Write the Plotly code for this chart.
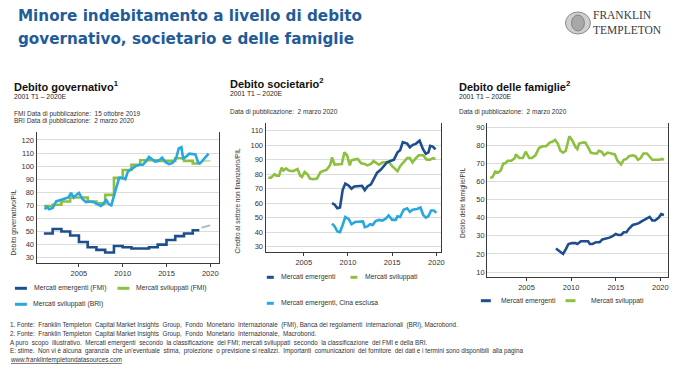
import plotly.graph_objects as go

W, H = 682, 382
FONT = "Liberation Sans, Arial, sans-serif"
DARK = "#1d4f8c"
GREEN = "#8dc03f"
CYAN = "#27a8de"
TXT = "#333333"

# ---------------- data ----------------
# Chart 1: Debito governativo / PIL (annual IMF, quarterly BIS)
gov_years = list(range(2001, 2019))
gov_em_fmi = [48.5, 52, 50, 47, 42, 38, 36, 34, 39, 38, 37, 37, 38, 40, 43.5, 46.5, 48.5, 51]
gov_dm_fmi = [69.5, 70.5, 73, 76, 76, 73, 71.5, 78, 91, 97, 101, 104.5, 104.5, 104, 104, 106, 104, 102]
proj_years = [2019, 2020, 2021]
gov_em_proj = [53, 55, 56.5]
gov_dm_proj = [104, 104, 104]
gov_bri_t = [2001.1, 2001.35, 2001.6, 2002.0, 2002.4, 2002.8, 2003.4, 2003.8, 2004.1, 2004.4, 2004.7,
             2005.0, 2005.4, 2005.8, 2006.2, 2006.7, 2007.1, 2007.5, 2007.8, 2008.1, 2008.4, 2008.7,
             2009.2, 2009.6, 2009.9, 2010.3, 2010.6, 2011.0, 2011.5, 2011.9, 2012.3, 2012.7, 2013.0,
             2013.4, 2013.7, 2014.1, 2014.5, 2014.9, 2015.3, 2015.7, 2016.1, 2016.4, 2016.7, 2016.9,
             2017.2, 2017.6, 2018.0, 2018.3, 2018.6, 2018.8, 2019.1, 2019.5, 2019.8]
gov_dm_bri = [67, 69, 67, 68, 73, 74, 75, 76, 79.5, 76, 78,
              79.5, 75, 72.5, 73, 72.5, 71, 69.5, 71, 74.5, 71, 70,
              82, 91, 91, 90, 96, 98, 100, 101, 101, 104, 107,
              105, 103.5, 104, 106.5, 103, 101.5, 102.5, 106, 113.5, 114.5, 106,
              107, 109.5, 109, 109, 103, 102, 104, 107, 109.5]

# Chart 2: Credito al settore non finanziario / PIL
corp_dm_t = [2001.0, 2001.3, 2001.7, 2001.9, 2002.2, 2002.5, 2002.7, 2003.0, 2003.3, 2003.8,
             2004.3, 2004.6, 2004.8, 2005.1, 2005.4, 2005.7, 2006.1, 2006.5, 2006.9, 2007.2,
             2007.6, 2008.0, 2008.2, 2008.5, 2008.9, 2009.3, 2009.6, 2009.9, 2010.2, 2010.4,
             2010.7, 2011.1, 2011.5, 2011.9, 2012.2, 2012.6, 2012.9, 2013.1, 2013.5, 2013.9,
             2014.3, 2014.6, 2015.0, 2015.4, 2015.6, 2015.9, 2016.3, 2016.7, 2017.0, 2017.3,
             2017.6, 2018.0, 2018.5, 2018.9, 2019.3, 2019.6, 2019.9]
corp_dm = [77.5, 77.5, 80, 79, 79, 84.5, 82.5, 84, 82.5, 82,
           83.5, 79, 78, 81.5, 80, 77, 76.5, 77, 81.5, 82,
           83, 86.5, 91.5, 86.5, 86.5, 87, 95, 93, 86, 89.5,
           90, 90.5, 87.5, 87, 86, 87, 89, 88, 86.5, 88,
           88, 88.5, 85.5, 83, 82, 85.5, 88, 91, 91, 88,
           90.5, 93, 93, 90, 90, 91, 90.5]
corp_em_t = [2008.2, 2008.5, 2008.8, 2009.1, 2009.4, 2009.7, 2010.1, 2010.4, 2010.7, 2011.2,
             2011.6, 2011.9, 2012.2, 2012.6, 2013.0, 2013.3, 2013.7, 2014.1, 2014.4, 2014.8,
             2015.2, 2015.6, 2015.9, 2016.2, 2016.7, 2017.0, 2017.3, 2017.7, 2018.1, 2018.5,
             2018.8, 2019.1, 2019.3, 2019.6, 2019.9]
corp_em = [60, 59, 56.5, 57, 69, 73.5, 72, 70, 71.5, 71.5,
           72, 69, 71.5, 73, 78, 81, 83, 85.5, 88, 89,
           90, 95, 96.5, 102, 101, 98.5, 100, 101, 103, 97,
           94, 95, 99.5, 99, 97]
corp_emx_t = [2008.2, 2008.5, 2008.8, 2009.1, 2009.4, 2009.7, 2010.1, 2010.4, 2010.8, 2011.3,
              2011.7, 2011.9, 2012.2, 2012.5, 2012.8, 2013.1, 2013.5, 2013.9, 2014.3, 2014.6,
              2015.0, 2015.4, 2015.6, 2015.9, 2016.3, 2016.7, 2017.0, 2017.3, 2017.8, 2018.2,
              2018.5, 2018.8, 2019.1, 2019.4, 2019.7, 2020.0]
corp_emx = [46, 44, 40.5, 40, 45, 50.5, 49, 45.5, 47, 47.5,
            47.5, 43.5, 44, 45.5, 45, 47.5, 48.5, 48, 49.5, 51.5,
            48.5, 48.5, 51, 50.5, 55.5, 56.5, 54, 55.5, 56, 57,
            52, 50, 51, 55, 55, 53.5]

# Chart 3: Debito delle famiglie / PIL
hh_dm_t = [2000.93, 2001.2, 2001.5, 2001.8, 2002.1, 2002.4, 2002.6, 2002.9, 2003.3, 2003.7,
           2003.8, 2004.2, 2004.6, 2004.9, 2005.3, 2005.6, 2006.0, 2006.4, 2006.8, 2007.2,
           2007.6, 2007.9, 2008.2, 2008.5, 2008.8, 2009.1, 2009.4, 2009.8, 2010.1, 2010.5,
           2010.7, 2010.9, 2011.3, 2011.6, 2012.0, 2012.2, 2012.6, 2012.9, 2013.1, 2013.4,
           2013.7, 2014.1, 2014.5, 2014.9, 2015.2, 2015.6, 2015.9, 2016.2, 2016.5, 2016.9,
           2017.2, 2017.5, 2017.8, 2018.1, 2018.5, 2018.8, 2019.1, 2019.5, 2019.9, 2020.2, 2020.4]
hh_dm = [62, 62.5, 65.5, 65, 66, 70, 70, 71.5, 71.5, 73,
         75, 73, 73, 76.5, 73, 73, 74.5, 78.5, 79.5, 79.5,
         81.5, 82, 83, 81, 77, 76, 77, 85, 83, 79,
         78, 81, 81.5, 81.5, 78, 76, 75.5, 75.5, 77, 76.5,
         74.5, 76, 75.5, 75, 71.5, 69.5, 72, 72.5, 74, 74.5,
         74, 72, 73, 75.5, 75.5, 74, 72, 72, 72, 72.5, 72]
hh_em_t = [2008.3, 2008.6, 2008.9, 2009.1, 2009.4, 2009.7, 2010.1, 2010.5, 2010.7, 2011.1,
           2011.6, 2011.9, 2012.1, 2012.4, 2012.8, 2013.2, 2013.5, 2013.9, 2014.3, 2014.7,
           2015.0, 2015.3, 2015.6, 2015.9, 2016.2, 2016.5, 2016.9, 2017.3, 2017.6, 2017.9,
           2018.4, 2018.8, 2019.1, 2019.4, 2019.8, 2020.1, 2020.4]
hh_em = [23, 22, 20.5, 20, 22.5, 25.5, 26, 26, 25.5, 27,
         27, 27, 25.5, 25.5, 26.5, 26.5, 28, 28.5, 29, 30,
         31, 30.5, 30.5, 32, 32, 34, 36, 36.5, 37, 38,
         39.5, 40.5, 38.5, 38.5, 40, 42, 41.5]

x_ticks = [2005, 2010, 2015, 2020]
gov_yticks = list(range(30, 130, 10))
corp_yticks = list(range(30, 120, 10))
hh_yticks = list(range(10, 100, 10))


def px(x):
    return x / W


def py(y):
    return 1 - y / H


fig = go.Figure()


def line(x, y, color, ax, dash=None, shape="linear", width=2.6):
    fig.add_trace(go.Scatter(x=x, y=y, mode="lines", xaxis=ax[0], yaxis=ax[1],
                             line=dict(color=color, width=width, dash=dash, shape=shape),
                             showlegend=False, hoverinfo="skip"))


# chart 1
step_x = gov_years + [gov_years[-1] + 0.75]
line(proj_years, gov_em_proj, "#a9b7c6", ("x", "y"), dash="dash", width=1.6)
line(proj_years, gov_dm_proj, "#c8df9f", ("x", "y"), dash="dash", width=1.6)
line(step_x, gov_em_fmi + [gov_em_fmi[-1]], DARK, ("x", "y"), shape="hv")
line(step_x, gov_dm_fmi + [gov_dm_fmi[-1]], GREEN, ("x", "y"), shape="hv")
line(gov_bri_t, gov_dm_bri, CYAN, ("x", "y"))
# chart 2
line(corp_dm_t, corp_dm, GREEN, ("x2", "y2"))
line(corp_em_t, corp_em, DARK, ("x2", "y2"))
line(corp_emx_t, corp_emx, CYAN, ("x2", "y2"))
# chart 3
line(hh_dm_t, hh_dm, GREEN, ("x3", "y3"))
line(hh_em_t, hh_em, DARK, ("x3", "y3"))

AXC = "#3a3a3a"
xcommon = dict(tickvals=x_ticks, showline=True, linecolor=AXC, linewidth=1, ticks="outside",
               ticklen=3, tickcolor=AXC, tickfont=dict(size=7.5, color=TXT, family=FONT),
               showgrid=False, zeroline=False, fixedrange=True)
ycommon = dict(showline=True, mirror=True, linecolor=AXC, linewidth=1, ticks="",
               tickfont=dict(size=7.5, color=TXT, family=FONT), showgrid=True,
               gridcolor="#dcdcdc", gridwidth=1, zeroline=False, fixedrange=True)

fig.update_layout(
    width=W, height=H, margin=dict(l=0, r=0, t=0, b=0),
    paper_bgcolor="white", plot_bgcolor="white", showlegend=False,
    font=dict(family=FONT, color=TXT),
    xaxis=dict(domain=[px(36.7), px(220)], range=[2000.16, 2021.0], anchor="y", **xcommon),
    yaxis=dict(domain=[py(262.7), py(131.7)], range=[26.2, 126.3], tickvals=gov_yticks,
               anchor="x", **ycommon),
    xaxis2=dict(domain=[px(266.7), px(443.3)], range=[2000.68, 2020.56], anchor="y2", **xcommon),
    yaxis2=dict(domain=[py(251.7), py(123.3)], range=[26.6, 115], tickvals=corp_yticks,
                anchor="x2", **ycommon),
    xaxis3=dict(domain=[px(489.3), px(670.7)], range=[2000.59, 2020.83], anchor="y3", **xcommon),
    yaxis3=dict(domain=[py(277.3), py(122.7)], range=[7.1, 92.5], tickvals=hh_yticks,
                anchor="x3", **ycommon),
)

ann = []


def text(x, y, s, size, color=TXT, bold=False, family=FONT, angle=0, xanchor="left",
         yanchor="middle"):
    if bold:
        s = "<b>" + s + "</b>"
    ann.append(dict(x=px(x), y=py(y), xref="paper", yref="paper", text=s, showarrow=False,
                    xanchor=xanchor, yanchor=yanchor, textangle=angle,
                    font=dict(size=size, color=color, family=family)))


TITLE_C = "#1f5c99"
TFONT = "DejaVu Sans, Liberation Sans, sans-serif"
text(16, 16.5, "Minore indebitamento a livello di debito", 15.2, TITLE_C, bold=True, family=TFONT)
text(16, 39, "governativo, societario e delle famiglie", 15.2, TITLE_C, bold=True, family=TFONT)

# logo
SERIF = "Liberation Serif, Times New Roman, serif"
text(594, 22.6, "FRANKLIN", 11.5, "#3a3a3a", family=SERIF, yanchor="bottom")
text(594, 22.4, "TEMPLETON", 11.5, "#3a3a3a", family=SERIF, yanchor="top")
fig.add_shape(type="circle", xref="paper", yref="paper", x0=px(568), x1=px(593), y0=py(34),
              y1=py(12), line=dict(color="#8a8a8a", width=1), fillcolor="#cfcfcf")
fig.add_shape(type="circle", xref="paper", yref="paper", x0=px(574), x1=px(587), y0=py(31),
              y1=py(15), line=dict(color="#777777", width=0.8), fillcolor="#a8a8a8")

# panel headings
text(12, 86, "Debito governativo<sup>1</sup>", 11, "#111111", bold=True)
text(12, 96, "2001 T1 – 2020E", 6.8, "#222222")
text(12, 113.5, "FMI Data di pubblicazione:  15 ottobre 2019", 6.5)
text(12, 121, "BRI Data di pubblicazione:  2 marzo 2020", 6.5)

text(229, 83.5, "Debito societario<sup>2</sup>", 11, "#111111", bold=True)
text(229, 93.5, "2001 T1 – 2020E", 6.8, "#222222")
text(229, 112.3, "Data di pubblicazione:  2 marzo 2020", 6.5)

text(459, 86, "Debito delle famiglie<sup>2</sup>", 11, "#111111", bold=True)
text(459, 96, "2001 T1 – 2020E", 6.8, "#222222")
text(459, 111.7, "Data di pubblicazione:  2 marzo 2020", 6.5)

# y-axis titles
text(14.5, 222, "Debito governativo/PIL", 6.5, angle=-90, xanchor="center")
text(238.5, 200, "Credito al settore non finanziario/PIL", 6.5, angle=-90, xanchor="center")
text(465, 203, "Debito delle famiglie/PIL", 6.5, angle=-90, xanchor="center")


# legends
def swatch(x0, x1, y, color):
    fig.add_shape(type="line", xref="paper", yref="paper", x0=px(x0), x1=px(x1), y0=py(y),
                  y1=py(y), line=dict(color=color, width=3))


LG = 6.8
swatch(15, 27, 288.3, DARK)
text(32.5, 288.3, "Mercati emergenti (FMI)", LG)
swatch(118, 130, 288.3, GREEN)
text(135, 288.3, "Mercati sviluppati (FMI)", LG)
swatch(15, 27, 304.3, CYAN)
text(31.5, 304.3, "Mercati sviluppati (BRI)", LG)

swatch(268, 275, 277.3, DARK)
text(280, 277.3, "Mercati emergenti", LG)
swatch(352, 359, 277.3, GREEN)
text(364.5, 277.3, "Mercati sviluppati", LG)
swatch(268, 275, 303.3, CYAN)
text(280, 303.3, "Mercati emergenti, Cina esclusa", LG)

swatch(483, 493, 300.7, DARK)
text(501.5, 300.7, "Mercati emergenti", LG)
swatch(568, 578, 300.7, GREEN)
text(591.5, 300.7, "Mercati sviluppati", LG)

# footnotes
FN = 6.3
text(8, 325, "1. Fonte:  Franklin Templeton  Capital Market Insights  Group,  Fondo  Monetario  Internazionale  (FMI), Banca dei regolamenti  internazionali  (BRI), Macrobond.", FN)
text(8, 334, "2. Fonte:  Franklin Templeton  Capital Market Insights  Group,  Fondo  Monetario  Internazionale,  Macrobond.", FN)
text(8, 342.7, "A puro  scopo  illustrativo.  Mercati emergenti  secondo  la classificazione  del FMI; mercati sviluppati  secondo  la classificazione  del FMI e della BRI.", FN)
text(8, 351.2, "E: stime.  Non vi è alcuna  garanzia  che un'eventuale  stima,  proiezione  o previsione si realizzi.  Importanti  comunicazioni  del fornitore  dei dati e i termini sono disponibili  alla pagina", FN)
text(8, 359.5, "<u>www.franklintempletondatasources.com</u>", FN)

fig.update_layout(annotations=ann)
fig.write_html("out.html", config={"displayModeBar": False},
               post_script="document.body.style.margin='0';document.body.style.overflow='hidden';")
